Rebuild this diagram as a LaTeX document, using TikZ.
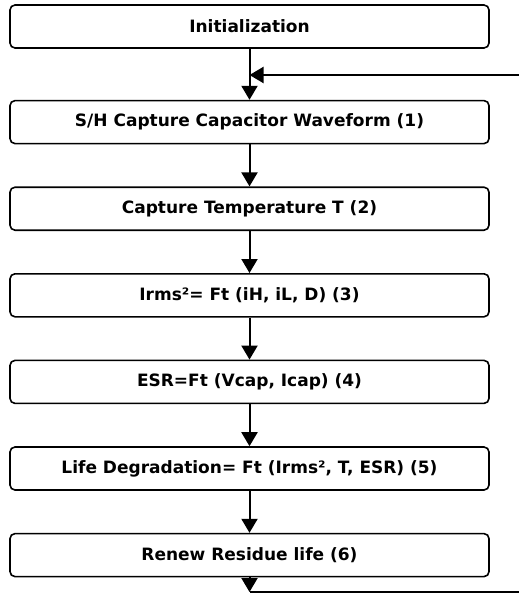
\documentclass[tikz,border=0pt]{standalone}
\usepackage{fontspec}
\setmainfont{DejaVu Sans}
\usetikzlibrary{positioning,arrows.meta}

\begin{document}
\begin{tikzpicture}[x=1pt,y=-1pt,
        stepnode/.style={rectangle, rounded corners=5pt, draw=black, line width=1.6pt, minimum width=479pt, minimum height=43pt, inner sep=0pt, font=\fontsize{17}{20}\selectfont\bfseries},
        arr/.style={line width=2pt, -{Triangle[length=14pt,width=16pt]}}]
        \useasboundingbox (0,0) rectangle (519,594);

        \node[stepnode] (init) at (249.5,26.5) {Initialization};
        \node[stepnode] (sh) [below=51pt of init] {S/H Capture Capacitor Waveform (1)};
        \node[stepnode] (temp) [below=42pt of sh] {Capture Temperature T (2)};
        \node[stepnode] (irms) [below=42pt of temp] {Irms²= Ft (iH, iL, D) (3)};
        \node[stepnode] (esr) [below=42pt of irms] {ESR=Ft (Vcap, Icap) (4)};
        \node[stepnode] (life) [below=42pt of esr] {Life Degradation= Ft (Irms², T, ESR) (5)};
        \node[stepnode] (renew) [below=42pt of life] {Renew Residue life (6)};

        \coordinate (fbin) at (519,75);
        \coordinate (fbmeet) at (init.south |- fbin);
        \coordinate (fbend) at (init.south |- 0,592);
        \coordinate (fbout) at (519,592);

        \draw[arr] (init) -- (sh);
        \draw[arr] (fbin) -- (fbmeet);
        \draw[arr] (sh) -- (temp);
        \draw[arr] (temp) -- (irms);
        \draw[arr] (irms) -- (esr);
        \draw[arr] (esr) -- (life);
        \draw[arr] (life) -- (renew);
        \draw[arr] (renew) -- (fbend);
        \draw[line width=2pt] (fbend) -- (fbout);

        \end{tikzpicture}
\end{document}
